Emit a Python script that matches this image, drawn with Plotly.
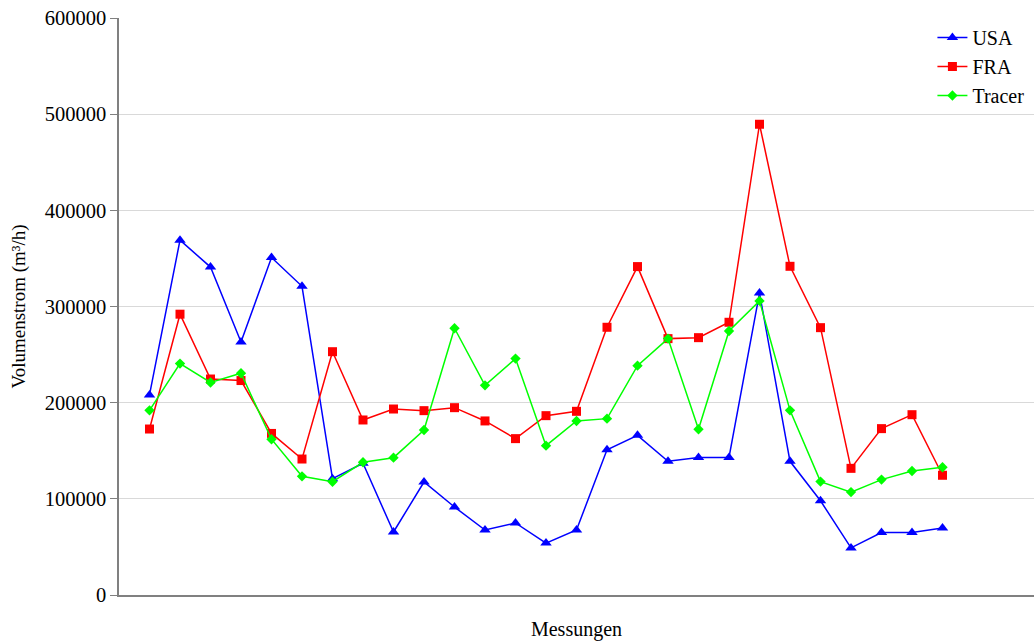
import plotly.graph_objects as go

messungen = list(range(1, 28))
usa = [208000, 369000, 341000, 263000, 351000, 321000, 121000, 137000, 65500, 117500,
       91500, 67600, 74900, 54000, 67600, 151000, 166000, 139000, 143000, 143000,
       314000, 139000, 98000, 49000, 65000, 65000, 69700]
fra = [172600, 292000, 224600, 223000, 168000, 141400, 253000, 182000, 193400, 191700,
       194800, 181000, 162600, 186500, 191000, 278400, 341500, 266600, 267600, 283600,
       489500, 341800, 278000, 131700, 173000, 187500, 124500]
tracer = [192000, 240600, 221000, 230600, 162000, 123400, 117800, 138000, 142800, 171600,
          277400, 218000, 245800, 155300, 181000, 183400, 238500, 266600, 172300, 274600,
          305800, 192000, 117900, 107000, 120000, 129000, 132800]

series = [
    ("USA", usa, "#0000FF", "triangle-up", 10),
    ("FRA", fra, "#FF0000", "square", 9),
    ("Tracer", tracer, "#00FF00", "diamond", 8),
]

fig = go.Figure()
for name, vals, col, sym, sz in series:
    fig.add_trace(go.Scatter(
        x=messungen, y=vals, name=name, mode="lines+markers",
        line=dict(color=col, width=1.5),
        marker=dict(symbol=sym, size=sz, color=col),
        legendgroup=name,
    ))

font_family = "Liberation Serif, Times New Roman, serif"
fig.update_layout(
    width=1034, height=644,
    margin=dict(l=119, r=0, t=18, b=49),
    plot_bgcolor="white", paper_bgcolor="white",
    font=dict(family=font_family, size=20, color="black"),
    showlegend=True,
    legend=dict(
        x=0.995, y=1.0, xanchor="right", yanchor="top",
        font=dict(family=font_family, size=20, color="black"),
        bgcolor="rgba(255,255,255,0)",
        tracegroupgap=0,
        itemwidth=30,
    ),
    xaxis=dict(
        range=[0, 30], showticklabels=False, ticks="", showgrid=False,
        showline=True, linecolor="#808080", linewidth=1.5, zeroline=False,
        title=dict(text="Messungen", font=dict(family=font_family, size=20), standoff=26),
    ),
    yaxis=dict(
        range=[0, 600000], dtick=100000, tickformat="d",
        showgrid=True, gridcolor="#d9d9d9", gridwidth=1,
        showline=True, linecolor="#808080", linewidth=1.5,
        ticks="outside", ticklen=7, tickcolor="#808080",
        zeroline=False,
        tickfont=dict(family=font_family, size=20.5),
        title=dict(text="Volumenstrom (m³/h)", font=dict(family=font_family, size=19), standoff=14),
    ),
)

fig.write_html("out.html", config={"displayModeBar": False},
               post_script="document.body.style.margin='0';")
